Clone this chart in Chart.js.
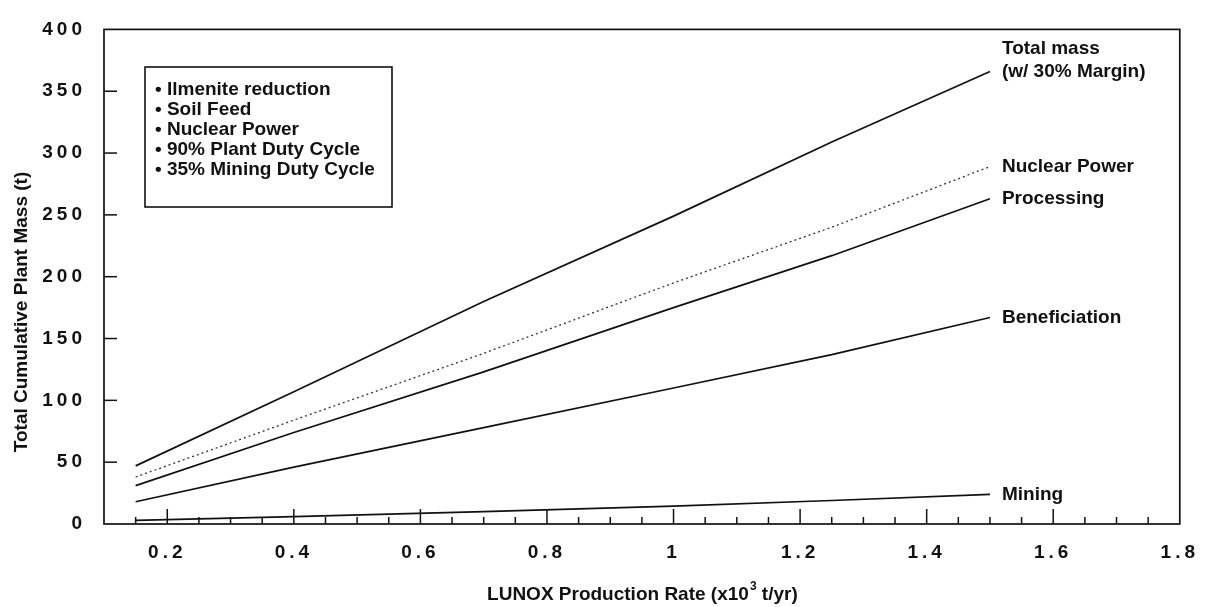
<!DOCTYPE html>
<html><head><meta charset="utf-8">
<script src="https://cdn.jsdelivr.net/npm/chart.js@4.4.1/dist/chart.umd.min.js"></script>
<style>html,body{margin:0;padding:0;background:#fff;}#wrap{width:1210px;height:607px;position:relative;}</style>
</head><body><div id="wrap"><canvas id="c" width="1210" height="607"></canvas></div>
<script>
// ---- data (t of plant mass vs LUNOX production rate, x10^3 t/yr) ----
const rates        = [0.15, 0.4, 0.7, 1.0, 1.25, 1.5];
const totalMass    = [47, 107, 180, 249, 309, 366];
const nuclearPower = [38, 84, 138, 195, 240, 289];
const processing   = [31, 74, 123, 175, 217, 263];
const beneficiation= [18, 46, 78, 110, 137, 167];
const mining       = [3, 6, 10, 14.5, 19, 24];
const seriesNames  = ['Total mass', 'Nuclear Power', 'Processing', 'Beneficiation', 'Mining'];
const endLabels    = [['Total mass', '(w/ 30% Margin)'], ['Nuclear Power'], ['Processing'], ['Beneficiation'], ['Mining']];
const xTickValues  = [0.2, 0.4, 0.6, 0.8, 1.0, 1.2, 1.4, 1.6, 1.8];
const xTickLabels  = ['0.2', '0.4', '0.6', '0.8', '1', '1.2', '1.4', '1.6', '1.8'];
const yTickValues  = [0, 50, 100, 150, 200, 250, 300, 350, 400];
const yTickLabels  = ['0', '50', '100', '150', '200', '250', '300', '350', '400'];
const noteLines    = ['• Ilmenite reduction', '• Soil Feed', '• Nuclear Power', '• 90% Plant Duty Cycle', '• 35% Mining Duty Cycle'];
const xTitle       = ['LUNOX Production Rate (x10', '3', ' t/yr)'];
const yTitle       = 'Total Cumulative Plant Mass (t)';

const series = [totalMass, nuclearPower, processing, beneficiation, mining];
const FONT = "'Liberation Sans', Arial, Helvetica, sans-serif";
const INK = '#111';

const framePlugin = {
  id: 'frame',
  beforeDraw(chart) { chart.ctx.letterSpacing = '4px'; },
  afterDraw(chart) {
    const { ctx, chartArea: a, scales: { x, y } } = chart;
    ctx.save();
    ctx.letterSpacing = '0px';
    ctx.strokeStyle = INK;
    ctx.lineWidth = 1.7;
    ctx.strokeRect(a.left, a.top, a.right - a.left, a.bottom - a.top);
    const seg = (x1, y1, x2, y2) => { ctx.beginPath(); ctx.moveTo(x1, y1); ctx.lineTo(x2, y2); ctx.stroke(); };
    // inward y ticks
    ctx.lineWidth = 1.5;
    yTickValues.forEach(v => {
      if (v <= y.min || v >= y.max) return;
      const py = y.getPixelForValue(v);
      seg(a.left, py, a.left + 13, py);
    });
    // inward x ticks: major every 0.2, minor every 0.05
    for (let k = 3; k < 36; k++) {
      const v = k * 0.05;
      const px = x.getPixelForValue(v);
      const len = (k % 4 === 0) ? 15 : 7;
      seg(px, a.bottom, px, a.bottom - len);
    }
    // end-of-line labels
    ctx.fillStyle = INK;
    ctx.font = 'bold 19px ' + FONT;
    ctx.textAlign = 'left';
    ctx.textBaseline = 'middle';
    series.forEach((s, i) => {
      const last = s.length - 1;
      const px = x.getPixelForValue(rates[last]) + 12;
      const py = y.getPixelForValue(s[last]);
      const lines = endLabels[i];
      lines.forEach((t, k) => ctx.fillText(t, px, py - 23 * (lines.length - 1 - k)));
    });
    // notes box
    ctx.lineWidth = 1.6;
    ctx.strokeRect(145, 67, 247, 140);
    ctx.font = 'bold 19px ' + FONT;
    noteLines.forEach((t, k) => ctx.fillText(t, 155, 90 + 20 * k));
    // x title with superscript
    ctx.font = 'bold 19px ' + FONT;
    const w0 = ctx.measureText(xTitle[0]).width;
    const w2 = ctx.measureText(xTitle[2]).width;
    ctx.font = 'bold 12px ' + FONT;
    const w1 = ctx.measureText(xTitle[1]).width;
    let sx = (a.left + a.right) / 2 - (w0 + w1 + w2) / 2;
    const ty = 595;
    ctx.font = 'bold 19px ' + FONT;
    ctx.fillText(xTitle[0], sx, ty);
    ctx.font = 'bold 12px ' + FONT;
    ctx.fillText(xTitle[1], sx + w0 + 1, ty - 8);
    ctx.font = 'bold 19px ' + FONT;
    ctx.fillText(xTitle[2], sx + w0 + w1 + 1, ty);
    // y title
    ctx.translate(22, 312);
    ctx.rotate(-Math.PI / 2);
    ctx.textAlign = 'center';
    ctx.fillText(yTitle, 0, 0);
    ctx.restore();
  }
};

new Chart(document.getElementById('c'), {
  type: 'line',
  data: {
    datasets: series.map((s, i) => ({
      label: seriesNames[i],
      data: rates.map((r, j) => ({ x: r, y: s[j] })),
      borderColor: i === 1 ? '#333' : INK,
      borderWidth: i === 1 ? 1.3 : 1.7,
      borderDash: i === 1 ? [2, 3] : [],
      pointRadius: 0,
      tension: 0,
      fill: false
    }))
  },
  options: {
    responsive: false,
    animation: false,
    devicePixelRatio: 1,
    layout: { padding: { left: 0, right: 26, top: 20, bottom: 0 } },
    plugins: { legend: { display: false }, tooltip: { enabled: false } },
    scales: {
      x: {
        type: 'linear', min: 0.1, max: 1.8,
        afterBuildTicks: s => { s.ticks = xTickValues.map(v => ({ value: v })); },
        afterFit: s => { s.height = 607 - 524; },
        ticks: {
          callback: (v, i) => xTickLabels[i],
          font: { family: FONT, size: 19, weight: 'bold' }, color: INK, padding: 17,
          maxRotation: 0, autoSkip: false
        },
        grid: { display: false, drawTicks: false },
        border: { display: false }
      },
      y: {
        min: 0, max: 400,
        afterBuildTicks: s => { s.ticks = yTickValues.map(v => ({ value: v })); },
        afterFit: s => { s.width = 104; },
        ticks: {
          callback: (v, i) => yTickLabels[i],
          font: { family: FONT, size: 19, weight: 'bold' }, color: INK, padding: 18,
          autoSkip: false
        },
        grid: { display: false, drawTicks: false },
        border: { display: false }
      }
    }
  },
  plugins: [framePlugin]
});
</script>
</body></html>
